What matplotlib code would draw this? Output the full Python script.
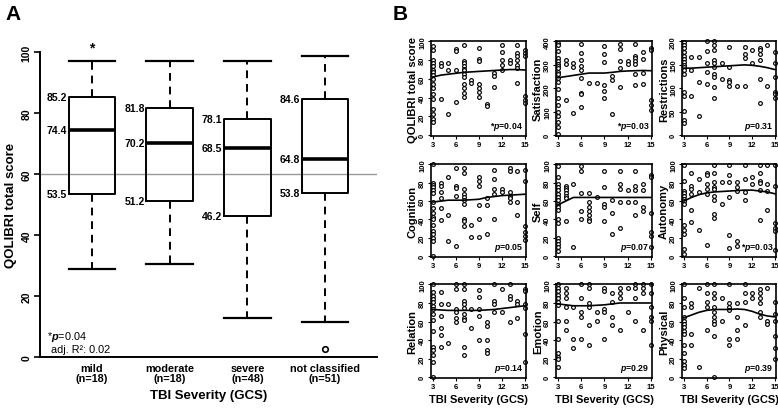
import matplotlib.pyplot as plt

plt.rcParams['font.family'] = 'Liberation Sans'
plt.rcParams['font.weight'] = 'bold'
plt.rcParams['axes.labelweight'] = 'bold'
plt.rcParams['mathtext.fontset'] = 'custom'
plt.rcParams['mathtext.it'] = 'Liberation Sans:italic'
plt.rcParams['mathtext.bf'] = 'Liberation Sans:bold'
plt.rcParams['mathtext.bfit'] = 'Liberation Sans:bold:italic'

# ---- panel A data (box plot of QOLIBRI total score by TBI severity)
groups = ['mild\n(n=18)', 'moderate\n(n=18)', 'severe\n(n=48)', 'not classified\n(n=51)']
medians = [74.4, 70.2, 68.5, 64.8]
q1 = [53.5, 51.2, 46.2, 53.8]
q3 = [85.2, 81.8, 78.1, 84.6]
whis_lo = [29.0, 30.5, 12.8, 11.5]
whis_hi = [97.0, 97.0, 97.0, 98.7]
outliers = [[], [], [], [2.6]]

# ---- panel B data: values per GCS score 3..15
gcs = list(range(3, 16))

total_vals = [
    [95, 91, 80, 77, 74, 70, 67, 64, 60, 55, 50, 44, 39, 28, 22, 17, 14],
    [77, 74, 39], [77, 69, 22], [92, 90, 69, 35],
    [96, 79, 77, 74, 71, 69, 65, 62, 55, 50, 45, 41],
    [59, 56], [93, 81, 79, 55, 50, 46, 41], [33, 31], [66, 63, 51],
    [96, 89, 80, 75, 70], [80, 77], [96, 88, 84, 80, 75, 72, 56],
    [91, 88, 84, 42, 37, 34],
]
total_fit = [62, 64, 65, 66, 67, 67.5, 68, 68.5, 69, 69.5, 70, 70, 69.5]

satis_vals = [
    [395, 385, 360, 330, 315, 305, 295, 285, 270, 260, 245, 225, 195, 160, 130, 100, 80, 55, 35, 5],
    [320, 302, 151], [306, 292, 94],
    [390, 350, 320, 295, 280, 245, 180, 175, 122],
    [223], [223], [381, 345, 314, 216, 187, 158], [252, 237, 89],
    [391, 367, 317, 288, 204], [317, 302],
    [391, 338, 328, 317, 302, 259, 213], [355, 324, 266, 219],
    [374, 363, 151, 130, 108],
]
satis_fit = [245, 250, 255, 260, 265, 265, 265, 268, 272, 274, 275, 276, 275]

restr_vals = [
    [198, 192, 185, 178, 170, 163, 156, 150, 145, 140, 131, 91, 84, 51, 33, 25],
    [167, 138, 84], [167, 113, 40], [200, 180, 153, 135, 109],
    [200, 193, 182, 160, 153, 145, 131, 124, 102, 80],
    [153, 120], [188, 145, 118, 113, 105], [105], [188, 173, 164, 105],
    [182, 153], [185, 182, 173, 160, 120, 69], [193, 105],
    [178, 153, 124, 92, 87, 80],
]
restr_fit = [143, 143, 144, 145, 146, 147, 148, 149, 150, 149, 147, 144, 140]

cogn_vals = [
    [100, 80, 78, 75, 72, 69, 59, 52, 47, 43, 40, 34, 27, 24, 20, 17, 0],
    [80, 77, 70, 63, 52, 39], [86, 45, 17], [96, 77, 74, 66, 11],
    [96, 91, 73, 68, 65, 61, 57, 41, 38, 33],
    [34, 21], [86, 82, 77, 56, 41, 21], [63, 56, 24], [94, 84, 73, 68, 41],
    [73, 70], [96, 93, 70, 66, 63, 59], [93, 59, 45],
    [94, 82, 33, 26, 22, 18],
]
cogn_fit = [59, 60, 61, 61, 61, 61.5, 62, 64, 65, 66, 66.5, 67, 67.5]

self_vals = [
    [98, 86, 79, 75, 72, 68, 65, 61, 57, 54, 50, 41, 36, 20, 17, 13, 10, 6],
    [77, 74, 72, 69, 66, 63, 38], [79, 10], [98, 93, 69, 49, 41],
    [69, 59, 54, 49, 45, 41, 38],
    [65], [93, 75, 57, 54, 38], [61, 47, 24], [93, 79, 73, 59, 31],
    [72, 59], [93, 77, 72, 59, 45], [79, 72, 54, 49],
    [89, 86, 47, 26, 22, 10],
]
self_fit = [56, 60, 64, 64, 64, 64, 64, 64, 64, 64, 64, 64, 64]

auto_vals = [
    [99, 82, 71, 69, 66, 62, 60, 57, 34, 29, 24, 8, 2],
    [91, 77, 73, 68, 50, 37], [84, 70, 29], [91, 88, 79, 73, 68, 12],
    [99, 91, 81, 75, 73, 66, 61, 46, 42],
    [81, 57], [99, 88, 81, 64, 23, 9], [81, 75, 71, 16, 11], [99, 84, 70, 61],
    [86, 79], [99, 91, 82, 80, 72, 39], [99, 79, 71, 50],
    [99, 77, 36, 31, 27, 7],
]
auto_fit = [60, 64, 67, 69, 70, 70.5, 71, 71.5, 72, 72, 71, 70, 68]

relat_vals = [
    [100, 92, 88, 84, 81, 77, 73, 68, 62, 50, 33, 29, 24, 16, 0],
    [92, 79, 66, 53, 45, 33], [79, 37], [100, 95, 73, 70, 64, 59],
    [100, 95, 82, 79, 75, 68, 64, 62, 33, 24],
    [73, 53], [94, 87, 73, 66, 40], [59, 55, 40, 29, 26], [100, 82, 79, 70],
    [95, 70], [100, 88, 84, 60], [82, 79, 64],
    [95, 93, 79, 75, 46, 16],
]
relat_fit = [73, 72.5, 72, 72, 72, 72, 72, 72.5, 73, 74, 75, 76, 77]

emot_vals = [
    [100, 96, 93, 89, 85, 81, 78, 61, 41, 26, 22, 19, 11],
    [96, 91, 85, 76, 61, 51], [76, 41, 31], [100, 85, 70, 65, 41],
    [100, 96, 80, 76, 56, 35],
    [70, 61], [96, 93, 74, 70, 41], [91, 81, 65, 56], [96, 91, 85, 51],
    [96, 70], [100, 96, 85, 61], [100, 96, 91, 51],
    [100, 91, 76, 65, 61, 35],
]
emot_fit = [79, 78, 77, 77, 77, 77.5, 78, 79, 80, 80, 80, 80, 80]

phys_vals = [
    [100, 85, 76, 65, 61, 57, 54, 50, 46, 35, 26, 17, 13, 10],
    [80, 76, 46, 35], [96, 11], [100, 91, 81, 76, 51],
    [100, 91, 85, 76, 70, 65, 61, 57, 44, 0],
    [85, 61], [100, 80, 76, 72, 41, 35], [80, 65, 51, 41], [100, 91, 81, 56],
    [91, 85], [95, 91, 85, 80, 70, 65], [96, 61, 57],
    [81, 68, 61, 44, 31, 20],
]
phys_fit = [64, 67, 70, 72, 73, 73, 73, 73.5, 73, 71, 68, 66, 65]

domains = ['QOLIBRI total score', 'Satisfaction', 'Restrictions',
           'Cognition', 'Self', 'Autonomy',
           'Relation', 'Emotion', 'Physical']
domain_vals = [total_vals, satis_vals, restr_vals, cogn_vals, self_vals,
               auto_vals, relat_vals, emot_vals, phys_vals]
domain_fits = [total_fit, satis_fit, restr_fit, cogn_fit, self_fit,
               auto_fit, relat_fit, emot_fit, phys_fit]
p_labels = ['*$\\mathbfit{p}$=0.04', '*$\\mathbfit{p}$=0.03', '$\\mathbfit{p}$=0.31',
            '$\\mathbfit{p}$=0.05', '$\\mathbfit{p}$=0.07', '*$\\mathbfit{p}$=0.03',
            '$\\mathbfit{p}$=0.14', '$\\mathbfit{p}$=0.29', '$\\mathbfit{p}$=0.39']
y_max = [100, 400, 200, 100, 100, 100, 100, 100, 100]

W, H = 778, 410
fig = plt.figure(figsize=(W / 100, H / 100), dpi=100)


def px_axes(left, top, right, bottom):
    return fig.add_axes([left / W, 1 - bottom / H, (right - left) / W, (bottom - top) / H])


# ---------------- panel A
ax = px_axes(40, 53, 377, 358)
pos = [1, 2, 3, 4]
stats = []
for i in range(4):
    stats.append(dict(med=medians[i], q1=q1[i], q3=q3[i], whislo=whis_lo[i],
                      whishi=whis_hi[i], fliers=outliers[i]))
ax.axhline(60, color='#9a9a9a', lw=1.0, zorder=0)
ax.bxp(stats, positions=pos, widths=0.6, capwidths=0.6,
       boxprops=dict(color='black', lw=1.4),
       medianprops=dict(color='black', lw=2.6),
       whiskerprops=dict(color='black', lw=1.4, linestyle=(0, (4, 3))),
       capprops=dict(color='black', lw=1.6),
       flierprops=dict(marker='o', mfc='white', mec='black', ms=4, mew=1.2))
for i in range(4):
    for v in (q1[i], medians[i], q3[i]):
        ax.text(pos[i] - 0.32, v, f'{v:.1f}', ha='right', va='center', fontsize=7.5)
ax.text(1, 101.5, '*', ha='center', va='center', fontsize=10)
ax.text(0.42, 7.0, '*$\\it{p}$=0.04', ha='left', va='center', fontsize=7.8, fontweight='normal')
ax.text(0.47, 2.7, 'adj. R²: 0.02', ha='left', va='center', fontsize=7.8, fontweight='normal')

ax.set_xlim(0.33, 4.67)
ax.set_ylim(0, 100)
ax.spines['top'].set_visible(False)
ax.spines['right'].set_visible(False)
ax.spines['left'].set_linewidth(1.4)
ax.spines['bottom'].set_linewidth(1.4)
ax.set_xticks(pos)
ax.set_xticklabels(groups, fontsize=7.8, linespacing=1.1)
ax.set_yticks([0, 20, 40, 60, 80, 100])
ax.tick_params(axis='y', labelsize=7.5, width=1.2, length=4, pad=2)
ax.tick_params(axis='x', length=0, pad=4)
for lab in ax.get_yticklabels():
    lab.set_rotation(90)
    lab.set_va('center')
ax.set_xlabel('TBI Severity (GCS)', fontsize=9.5, fontweight='bold', labelpad=4)
ax.set_ylabel('QOLIBRI total score', fontsize=9.5, fontweight='bold', labelpad=3)

fig.text(5 / W, 1 - 14 / H, 'A', fontsize=15, fontweight='bold', va='center')
fig.text(393 / W, 1 - 14 / H, 'B', fontsize=15, fontweight='bold', va='center')

# ---------------- panel B
cols = [(431, 526), (556, 652), (682, 776)]
rows = [(42, 137), (165, 258), (285, 379)]
for k in range(9):
    r, c = divmod(k, 3)
    axb = px_axes(cols[c][0], rows[r][0], cols[c][1], rows[r][1])
    vals = domain_vals[k]
    xs, ys = [], []
    for g, v in zip(gcs, vals):
        xs += [g] * len(v)
        ys += v
    axb.plot(xs, ys, 'o', mfc='white', mec='black', ms=2.7, mew=0.85, clip_on=False)
    axb.plot(gcs, domain_fits[k], color='black', lw=1.2)
    ym = y_max[k]
    axb.set_xlim(2.75, 15.15)
    axb.set_ylim(-0.01 * ym, 1.005 * ym)
    axb.set_xticks([3, 6, 9, 12, 15])
    nt = 4 if ym != 100 else 5
    axb.set_yticks([ym * i / nt for i in range(nt + 1)])
    axb.set_yticklabels([f'{t:g}' for t in axb.get_yticks()])
    axb.tick_params(labelsize=5.5, width=0.8, length=2.5, pad=1)
    for lab in axb.get_yticklabels():
        lab.set_rotation(90)
        lab.set_va('center')
    for s in axb.spines.values():
        s.set_linewidth(1.2)
    axb.set_ylabel(domains[k], fontsize=8, fontweight='bold', labelpad=1)
    axb.text(0.97, 0.04, p_labels[k], transform=axb.transAxes, ha='right', va='bottom',
             fontsize=6.3)
    if r == 2:
        axb.set_xlabel('TBI Severity (GCS)', fontsize=8, fontweight='bold', labelpad=3)

fig.savefig('out.png', dpi=100)
